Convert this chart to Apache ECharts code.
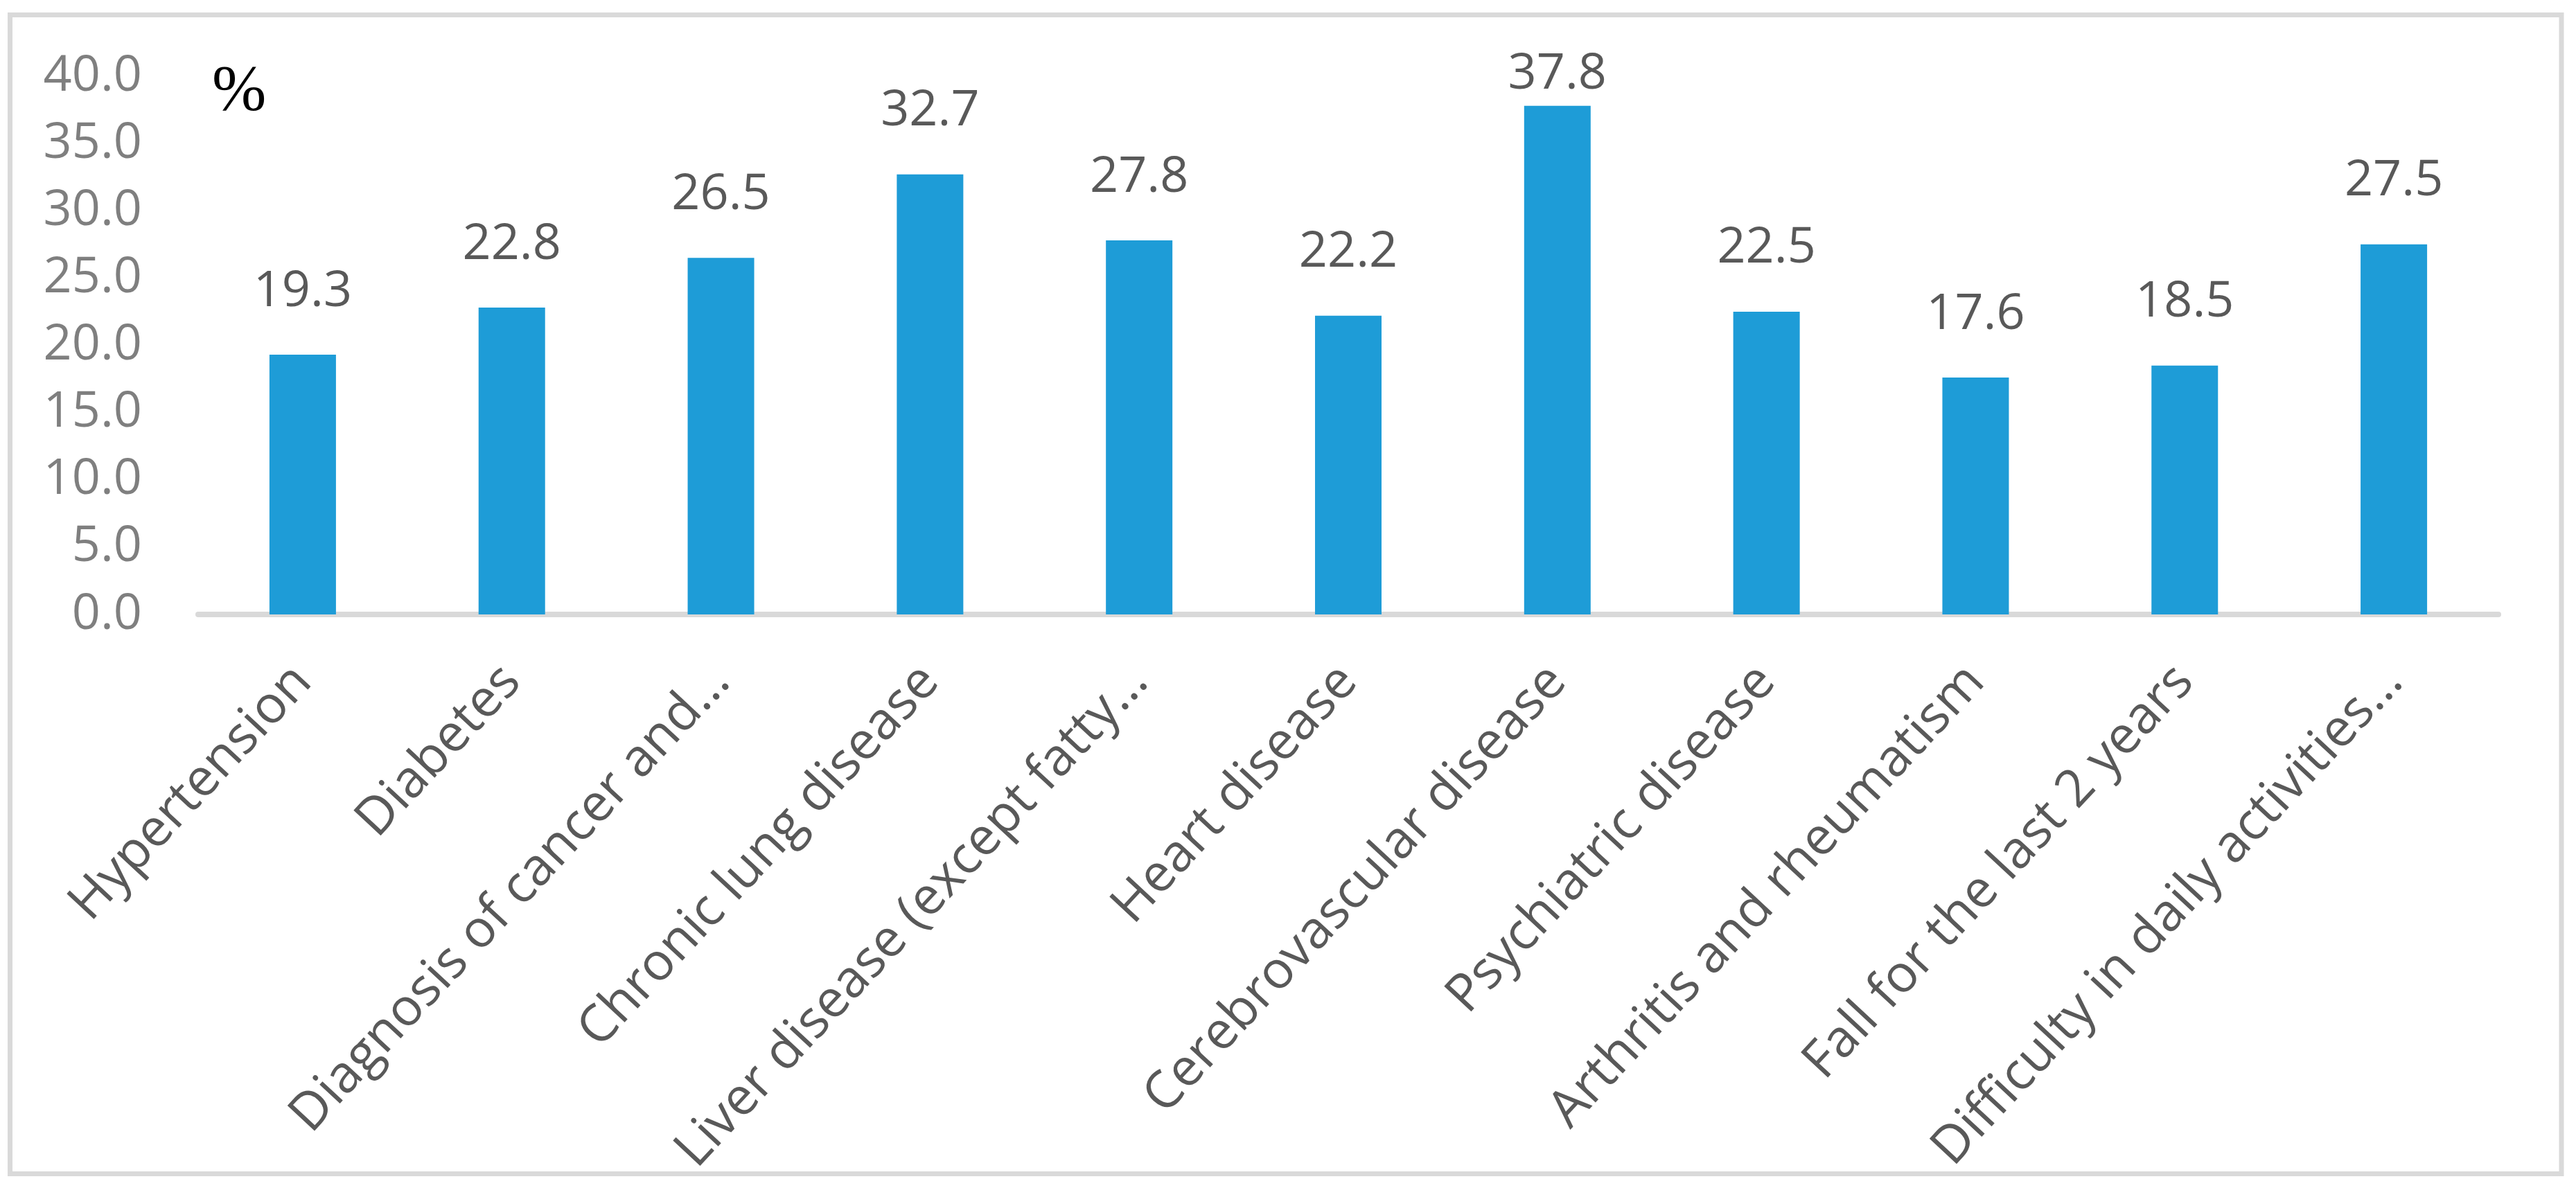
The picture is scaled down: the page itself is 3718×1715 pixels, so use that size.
<!DOCTYPE html>
<html>
<head>
<meta charset="utf-8">
<script src="https://cdn.jsdelivr.net/npm/echarts@6/dist/echarts.min.js"></script>
<style>
html,body{margin:0;padding:0;background:#fff;}
#chart{width:3718px;height:1715px;}
</style>
</head>
<body>
<div id="chart"></div>
<script>
const categories = [
  "Hypertension",
  "Diabetes",
  "Diagnosis of cancer and…",
  "Chronic lung disease",
  "Liver disease (except fatty…",
  "Heart disease",
  "Cerebrovascular disease",
  "Psychiatric disease",
  "Arthritis and rheumatism",
  "Fall for the last 2 years",
  "Difficulty in daily activities…"
];
const values = [19.3, 22.8, 26.5, 32.7, 27.8, 22.2, 37.8, 22.5, 17.6, 18.5, 27.5];
const yTicks = { min: 0, max: 40, interval: 5 };
const unitLabel = "%";

const LABEL_DIST = 55;
const LABEL_TOP_LIMIT = 143; // labels are kept inside the chart area (like Excel)

const chart = echarts.init(document.getElementById('chart'), null, {renderer: 'canvas'});
const baseOption = {
  backgroundColor: '#ffffff',
  animation: false,
  grid: { left: 286, right: 112, top: 110, bottom: 828, containLabel: false },
  xAxis: {
    type: 'category',
    data: categories,
    axisLine: { show: true, lineStyle: { color: '#d9d9d9', width: 8 } },
    axisTick: { show: false },
    splitLine: { show: false },
    axisLabel: {
      interval: 0,
      rotate: 47,
      margin: 85,
      color: '#595959',
      fontFamily: 'Open Sans',
      fontSize: 75
    }
  },
  yAxis: {
    type: 'value',
    min: yTicks.min,
    max: yTicks.max,
    interval: yTicks.interval,
    axisLine: { show: false },
    axisTick: { show: false },
    splitLine: { show: false },
    axisLabel: {
      margin: 81,
      color: '#7f7f7f',
      fontFamily: 'Open Sans',
      fontSize: 72,
      formatter: v => v.toFixed(1)
    }
  },
  graphic: [
    {
      type: 'rect',
      shape: { x: 14.5, y: 21.5, width: 3682.5, height: 1673 },
      style: { fill: 'none', stroke: '#d9d9d9', lineWidth: 7 },
      z: 0, silent: true
    },
    {
      type: 'text',
      left: 306,
      top: 86,
      style: {
        text: unitLabel,
        font: '94px "Liberation Serif", "Times New Roman", serif',
        fill: '#000000'
      },
      z: 10
    }
  ],
  series: [{
    type: 'bar',
    data: values,
    barWidth: 96,
    itemStyle: { color: '#1e9cd7' },
    label: {
      show: true,
      position: 'top',
      distance: LABEL_DIST,
      color: '#595959',
      fontFamily: 'Open Sans',
      fontSize: 72,
      formatter: p => Number(p.value).toFixed(1)
    }
  }]
};
chart.setOption(baseOption);

// keep labels of tall bars inside the chart area, using the chart's own scale
const data = values.map((v, i) => {
  const py = chart.convertToPixel({ seriesIndex: 0 }, [i, v])[1];
  const d = Math.min(LABEL_DIST, py - LABEL_TOP_LIMIT);
  return d < LABEL_DIST ? { value: v, label: { distance: Math.max(d, 0) } } : v;
});
chart.setOption({ series: [{ data: data }] });
</script>
</body>
</html>
